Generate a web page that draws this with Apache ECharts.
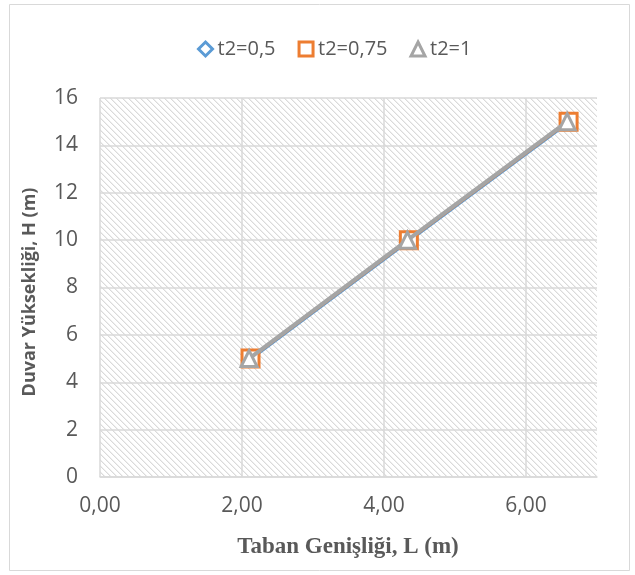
<!DOCTYPE html>
<html>
<head>
<meta charset="utf-8">
<script src="https://cdn.jsdelivr.net/npm/echarts@6/dist/echarts.min.js"></script>
<style>
  html, body { margin: 0; padding: 0; background: #fff; }
  #chart { width: 635px; height: 575px; }
</style>
</head>
<body>
<div id="chart"></div>
<script>
// Wall height (m) versus required base width (m) for three t2 values
const wallHeights = [5, 10, 15];
const baseWidthT05 = [2.14, 4.37, 6.62];
const baseWidthT075 = [2.12, 4.35, 6.60];
const baseWidthT1 = [2.10, 4.33, 6.58];
const seriesNames = ['t2=0,5', 't2=0,75', 't2=1'];
const xTicks = [0, 2, 4, 6];

const textColor = '#595959';
const gridColor = '#d9d9d9';

// Downward diagonal hatch for the plot area
function hatchPattern() {
  const s = 6;
  const c = document.createElement('canvas');
  c.width = s; c.height = s;
  const g = c.getContext('2d');
  g.fillStyle = '#ffffff';
  g.fillRect(0, 0, s, s);
  for (let i = 0; i < s; i++) {
    g.fillStyle = '#dadada';
    g.fillRect(i, i, 1, 1);
    g.fillStyle = '#efefef';
    g.fillRect((i + 1) % s, i, 1, 1);
  }
  return { image: c, repeat: 'repeat' };
}

function pairs(xs, ys) {
  return xs.map((x, i) => [x, ys[i]]);
}

const chart = echarts.init(document.getElementById('chart'), null, { renderer: 'canvas' });

const option = {
  animation: false,
  backgroundColor: '#ffffff',
  textStyle: { fontFamily: 'Open Sans' },
  graphic: [
    {
      type: 'rect',
      shape: { x: 9.5, y: 4.5, width: 620, height: 566 },
      style: { fill: 'none', stroke: '#d9d9d9', lineWidth: 1 },
      silent: true, z: -10
    },
    {
      type: 'text',
      rotation: Math.PI / 2,
      style: {
        text: 'Duvar Yüksekliği, H (m)',
        fill: textColor,
        font: 'bold 18px "Open Sans"',
        align: 'center', verticalAlign: 'middle'
      },
      x: 30, y: 292
    },
    {
      type: 'text',
      style: {
        text: 'Taban Genişliği, L (m)',
        fill: textColor,
        font: 'bold 23px "Liberation Serif"',
        align: 'center', verticalAlign: 'middle'
      },
      x: 348, y: 547
    }
  ],
  legend: {
    top: 34,
    left: 192,
    itemWidth: 14,
    itemHeight: 14,
    itemGap: 22,
    textStyle: { color: textColor, fontSize: 20, fontFamily: 'Open Sans' },
    data: [
      { name: seriesNames[0], icon: 'diamond', itemStyle: { color: '#fff', borderColor: '#5b9bd5', borderWidth: 3 } },
      { name: seriesNames[1], icon: 'rect', itemStyle: { color: '#fff', borderColor: '#ed7d31', borderWidth: 3 } },
      { name: seriesNames[2], icon: 'triangle', itemStyle: { color: '#fff', borderColor: '#a5a5a5', borderWidth: 3 } }
    ]
  },
  grid: {
    left: 100, right: 38, top: 98, bottom: 98,
    show: true,
    backgroundColor: hatchPattern(),
    borderWidth: 0
  },
  xAxis: {
    type: 'value',
    min: 0, max: 7, interval: 2,
    axisLine: { show: true, lineStyle: { color: gridColor, width: 1.5 } },
    axisTick: { show: false },
    axisLabel: {
      color: textColor, fontSize: 21, margin: 19,
      showMaxLabel: false,
      formatter: v => (xTicks.indexOf(v) >= 0 ? v.toFixed(2).replace('.', ',') : '')
    },
    splitLine: {
      show: true,
      lineStyle: { color: [gridColor, gridColor, gridColor, gridColor, 'rgba(0,0,0,0)'], width: 1.5 }
    }
  },
  yAxis: {
    type: 'value',
    min: 0, max: 16, interval: 2,
    axisLine: { show: false },
    axisTick: { show: false },
    axisLabel: { color: textColor, fontSize: 21, margin: 22 },
    splitLine: { show: true, lineStyle: { color: gridColor, width: 1.5 } }
  },
  series: [
    {
      name: seriesNames[0], type: 'line',
      data: pairs(baseWidthT05, wallHeights),
      symbol: 'diamond', symbolSize: 12,
      lineStyle: { color: '#5b9bd5', width: 2.5 },
      itemStyle: { color: '#fff', borderColor: '#5b9bd5', borderWidth: 2.5 },
      z: 2
    },
    {
      name: seriesNames[1], type: 'line',
      data: pairs(baseWidthT075, wallHeights),
      symbol: 'rect', symbolSize: 17,
      lineStyle: { color: '#ed7d31', width: 2.5 },
      itemStyle: { color: '#fff', borderColor: '#ed7d31', borderWidth: 3 },
      z: 3
    },
    {
      name: seriesNames[2], type: 'line',
      data: pairs(baseWidthT1, wallHeights),
      symbol: 'triangle', symbolSize: 16,
      lineStyle: { color: '#a5a5a5', width: 4 },
      itemStyle: { color: '#fff', borderColor: '#a5a5a5', borderWidth: 3 },
      z: 4
    }
  ]
};

chart.setOption(option);
</script>
</body>
</html>
